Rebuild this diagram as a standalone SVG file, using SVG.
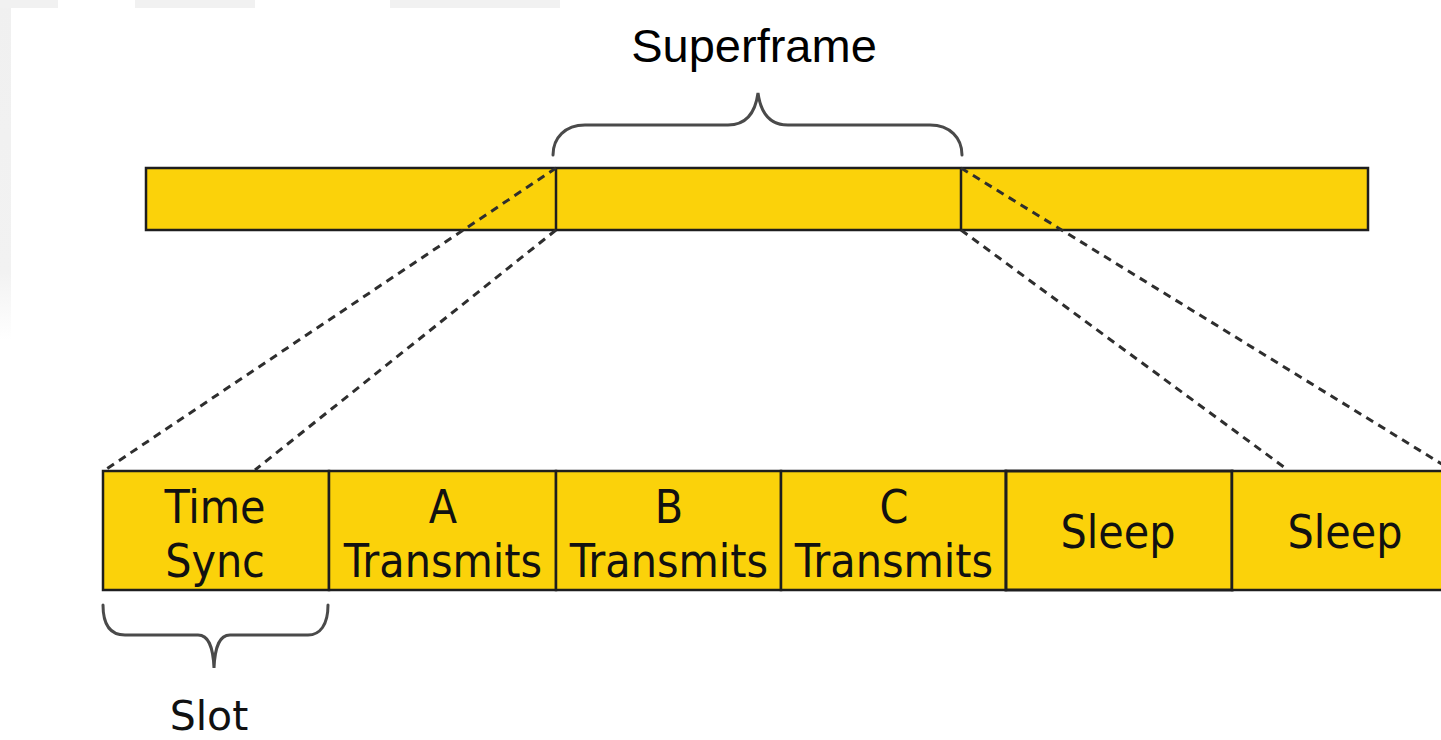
<svg xmlns="http://www.w3.org/2000/svg" width="1441" height="740" viewBox="0 0 1441 740">
  <defs>
    <style>
      .cell { fill: #FBD20A; stroke: #1e1e1e; stroke-width: 2.5; }
      .div { stroke: #1e1e1e; stroke-width: 2.5; }
      .dash { fill: none; stroke: #2e2e2e; stroke-width: 3; stroke-dasharray: 8 6; }
      .brace { fill: none; stroke: #4a4a4a; stroke-width: 3; stroke-linecap: round; }
      .lbl { font-family: 'DejaVu Sans Condensed', 'DejaVu Sans', sans-serif; font-stretch: condensed; font-size: 46px; fill: #111; text-anchor: middle; }
      .title { font-family: 'Liberation Sans', Arial, sans-serif; font-size: 47px; fill: #000; text-anchor: middle; }
      .slot { font-family: 'DejaVu Sans', sans-serif; font-size: 41px; fill: #111; text-anchor: middle; }
    </style>
    <linearGradient id="fadeV" x1="0" y1="0" x2="0" y2="1">
      <stop offset="0" stop-color="#f0f0f0"/>
      <stop offset="0.8" stop-color="#f2f2f2"/>
      <stop offset="1" stop-color="#ffffff"/>
    </linearGradient>
  </defs>
  <rect x="0" y="0" width="1441" height="740" fill="#ffffff"/>
  <g id="background">
    <rect x="0" y="0" width="11" height="340" fill="url(#fadeV)"/>
    <g fill="#f1f1f1">
      <rect x="0" y="0" width="58" height="8"/>
      <rect x="135" y="0" width="120" height="8"/>
      <rect x="390" y="0" width="170" height="8"/>
    </g>
  </g>

  <g id="superframe-label">
    <text class="title" x="754" y="62">Superframe</text>
    <path class="brace" d="M553,155 C553,138 565,125 585,125 L728,125 C745,125 755,115 758,93 C761,115 771,125 788,125 L930,125 C950,125 962,138 962,155"/>
  </g>

  <g id="top-bar">
    <rect class="cell" x="146" y="168" width="1222" height="62"/>
    <line class="div" x1="556" y1="168" x2="556" y2="230"/>
    <line class="div" x1="961" y1="168" x2="961" y2="230"/>
  </g>

  <g id="connectors">
    <line class="dash" x1="556" y1="168" x2="105" y2="470"/>
    <line class="dash" x1="556" y1="230" x2="255" y2="470"/>
    <line class="dash" x1="961" y1="230" x2="1288" y2="470"/>
    <line class="dash" x1="961" y1="168" x2="1458" y2="474"/>
  </g>

  <g id="slot-time-sync">
    <rect class="cell" x="103" y="471" width="226" height="119"/>
    <text class="lbl" x="215" y="523">Time</text>
    <text class="lbl" x="215" y="577">Sync</text>
  </g>
  <g id="slot-a">
    <rect class="cell" x="329" y="471" width="227" height="119"/>
    <text class="lbl" x="443" y="523">A</text>
    <text class="lbl" x="443" y="577">Transmits</text>
  </g>
  <g id="slot-b">
    <rect class="cell" x="556" y="471" width="225" height="119"/>
    <text class="lbl" x="669" y="523">B</text>
    <text class="lbl" x="669" y="577">Transmits</text>
  </g>
  <g id="slot-c">
    <rect class="cell" x="781" y="471" width="225" height="119"/>
    <text class="lbl" x="894" y="523">C</text>
    <text class="lbl" x="894" y="577">Transmits</text>
  </g>
  <g id="slot-sleep-1">
    <rect class="cell" x="1006" y="471" width="226" height="119" style="stroke-width:3"/>
    <text class="lbl" x="1118" y="548">Sleep</text>
  </g>
  <g id="slot-sleep-2">
    <rect class="cell" x="1232" y="471" width="226" height="119"/>
    <text class="lbl" x="1345" y="548">Sleep</text>
  </g>

  <g id="slot-label">
    <path class="brace" d="M103,605 C103,625 110,635 125,635 L198,635 C208,635 213,645 214,668 C215,645 220,635 230,635 L308,635 C320,635 328,625 328,605"/>
    <text class="slot" x="209" y="730">Slot</text>
  </g>
</svg>
